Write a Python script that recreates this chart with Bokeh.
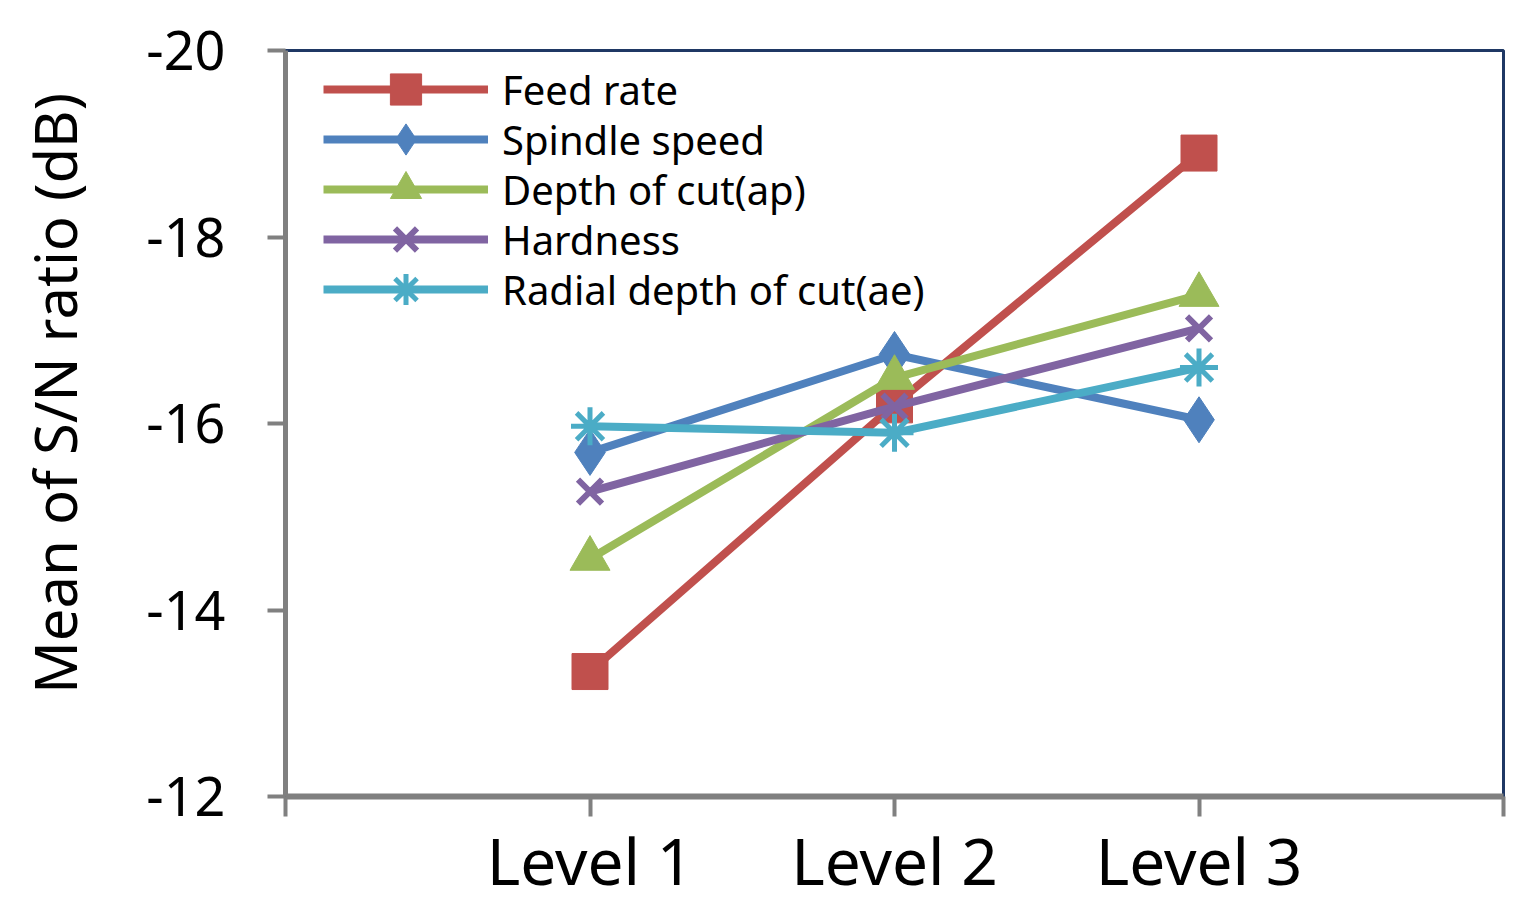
from bokeh.plotting import figure
from bokeh.models import Range1d, FixedTicker, Legend, LegendItem
from bokeh.embed import file_html
from bokeh.resources import INLINE

levels = ["Level 1", "Level 2", "Level 3"]
level_pos = [1, 2, 3]
feed_rate = [-13.34, -16.20, -18.90]
spindle_speed = [-15.69, -16.74, -16.04]
depth_of_cut = [-14.55, -16.49, -17.38]
hardness = [-15.27, -16.18, -17.02]
radial_depth = [-15.97, -15.90, -16.60]
y_ticks = [-20, -18, -16, -14, -12]

FONT = "Noto Sans"

p = figure(width=1528, height=906, output_backend="svg", toolbar_location=None,
           x_range=Range1d(0, 4), y_range=Range1d(-12, -20),
           min_border_left=285, min_border_top=50, min_border_right=25, min_border_bottom=108)
p.xgrid.visible = False
p.ygrid.visible = False
p.outline_line_color = "#1F3864"
p.outline_line_width = 3
p.background_fill_color = "white"
p.border_fill_color = "white"

series = [
    ("Feed rate", feed_rate, "#C0504D", "square", 36, 1),
    ("Spindle speed", spindle_speed, "#4F81BD", "diamond", 46, 1),
    ("Depth of cut(ap)", depth_of_cut, "#9BBB59", "triangle", 40, 1),
    ("Hardness", hardness, "#8064A2", "x", 34, 6),
    ("Radial depth of cut(ae)", radial_depth, "#4BACC6", "asterisk", 38, 5),
]

for i, (name, vals, col, mk, sz, lw) in enumerate(series):
    r1 = p.line(level_pos, vals, line_color=col, line_width=8)
    if mk in ("x", "asterisk"):
        r2 = p.scatter(level_pos, vals, marker=mk, size=sz, line_color=col, line_width=lw)
    else:
        r2 = p.scatter(level_pos, vals, marker=mk, size=sz, fill_color=col, line_color=col)
    legend = Legend(items=[LegendItem(label=name, renderers=[r1, r2])],
                    location=(38, 667 - 50 * i), margin=0, padding=0,
                    border_line_color=None, background_fill_alpha=0,
                    label_text_font=FONT, label_text_font_size="40px",
                    label_text_color="black", glyph_width=165, glyph_height=78,
                    label_height=80, spacing=0, label_standoff=14)
    p.add_layout(legend)

xa = p.xaxis[0]
xa.ticker = FixedTicker(ticks=[0, 1, 2, 3, 4])
xa.major_label_overrides = {0: "", 1: levels[0], 2: levels[1], 3: levels[2], 4: ""}
xa.axis_line_color = "#808080"
xa.axis_line_width = 6
xa.major_tick_line_color = "#808080"
xa.major_tick_line_width = 4
xa.major_tick_out = 20
xa.major_tick_in = 0
xa.minor_tick_line_color = None
xa.major_label_text_font = FONT
xa.major_label_text_font_size = "64px"
xa.major_label_text_color = "black"
xa.major_label_standoff = 0

ya = p.yaxis[0]
ya.ticker = FixedTicker(ticks=y_ticks)
ya.major_label_overrides = {t: str(t) for t in y_ticks}
ya.axis_line_color = "#808080"
ya.axis_line_width = 5
ya.major_tick_line_color = "#808080"
ya.major_tick_line_width = 4
ya.major_tick_out = 18
ya.major_tick_in = 0
ya.minor_tick_line_color = None
ya.major_label_text_font = FONT
ya.major_label_text_font_size = "54px"
ya.major_label_text_color = "black"
ya.major_label_standoff = 42
ya.axis_label = "\u00a0\u00a0\u00a0\u00a0Mean of S/N ratio (dB)"
ya.axis_label_text_font = FONT
ya.axis_label_text_font_size = "58px"
ya.axis_label_text_font_style = "normal"
ya.axis_label_text_color = "black"
ya.axis_label_standoff = 49

open("out.html", "w").write(file_html(p, INLINE))
